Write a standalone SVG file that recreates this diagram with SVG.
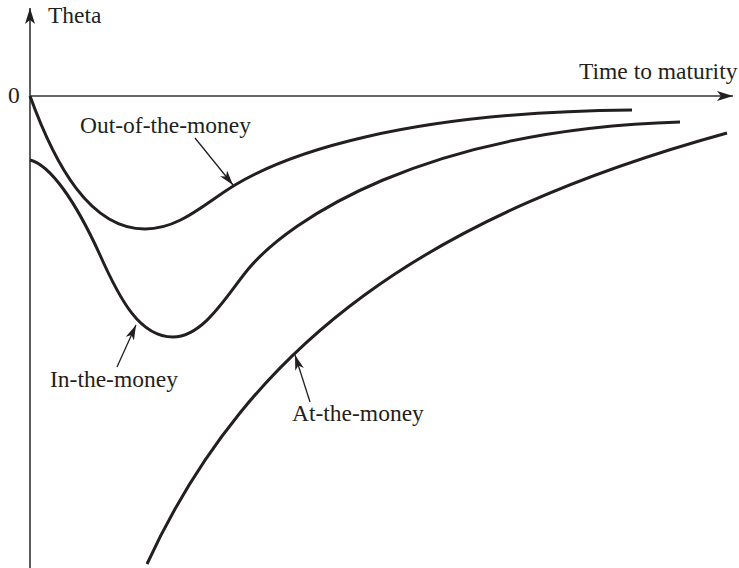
<svg xmlns="http://www.w3.org/2000/svg" width="739" height="568" viewBox="0 0 739 568">
<style>
.ax{stroke:#333;stroke-width:1.6;fill:none}
.cv{stroke:#231f20;stroke-width:3;fill:none;stroke-linecap:butt}
.ld{stroke:#231f20;stroke-width:1.3;fill:none}
text{font-family:"Liberation Serif","Times New Roman",serif;font-size:23.5px;fill:#231f20}
</style>
<defs>
<marker id="ah" viewBox="0 0 16 10" refX="16" refY="5" markerWidth="16" markerHeight="10" markerUnits="userSpaceOnUse" orient="auto">
<path d="M0,0 L16,5 L0,10 L4,5 Z" fill="#231f20"/>
</marker>
<marker id="lh" viewBox="0 0 15 9" refX="15" refY="4.5" markerWidth="15" markerHeight="9" markerUnits="userSpaceOnUse" orient="auto">
<path d="M0,0 L15,4.5 L0,9 L4,4.5 Z" fill="#231f20"/>
</marker>
</defs>
<g id="axes">
<line class="ax" x1="30" y1="568" x2="30" y2="8" marker-end="url(#ah)"/>
<line class="ax" x1="30" y1="96" x2="733" y2="96" marker-end="url(#ah)"/>
<text x="48" y="23">Theta</text>
<text x="8" y="103">0</text>
<text x="579" y="79">Time to maturity</text>
</g>
<g id="curves">
<path id="otm" class="cv" d="M30,96 C55,165 90,229 145,229 C180,229 205,203 235,185 C285,155 400,112 632,110"/>
<path id="itm" class="cv" d="M30,160 C50,165 75,200 100,255 C120,300 140,337 173,337 C205,337 230,290 250,267 C290,221 420,130 680,122"/>
<path id="atm" class="cv" d="M147,564 C250,340 430,215 727,133"/>
</g>
<g id="lbl-otm"><text x="80" y="133">Out-of-the-money</text></g>
<g id="lbl-itm"><text x="50" y="387">In-the-money</text></g>
<g id="lbl-atm"><text x="292" y="421">At-the-money</text></g>
<g id="connectors">
<line class="ld" x1="195" y1="138" x2="233" y2="185" marker-end="url(#lh)"/>
<line class="ld" x1="117" y1="367" x2="136" y2="325" marker-end="url(#lh)"/>
<line class="ld" x1="310" y1="402" x2="295" y2="355" marker-end="url(#lh)"/>
</g>
</svg>
